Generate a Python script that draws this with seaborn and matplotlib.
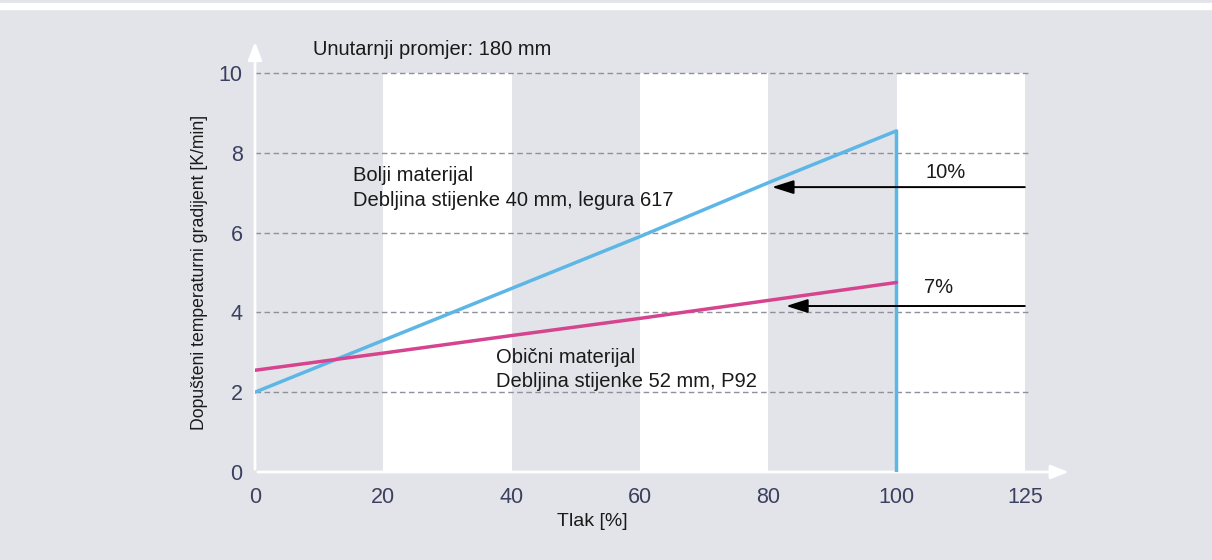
import matplotlib
matplotlib.use("Agg")
import matplotlib.pyplot as plt
import seaborn as sns
import pandas as pd

# ---- data ----
pressure = [0, 20, 40, 60, 80, 100]
better_material = [2.0, 3.3, 4.6, 5.9, 7.25, 8.55]      # Bolji materijal
ordinary_material = [2.55, 2.98, 3.42, 3.85, 4.3, 4.75]  # Obični materijal
tick_positions = [0, 20, 40, 60, 80, 100, 120]
tick_labels = ["0", "20", "40", "60", "80", "100", "125"]
y_ticks = [0, 2, 4, 6, 8, 10]
arrow_10 = (120, 80.6, 7.14)   # from x, to x, y
arrow_7 = (120, 82.8, 4.16)

BG = "#e3e4e9"
BLUE = "#5cb6e6"
MAGENTA = "#d6448f"
TICK = "#3b4060"
TXT = "#1a1a1a"

sns.set_theme(style="white")
plt.rcParams["font.family"] = ["Liberation Sans", "DejaVu Sans"]

fig = plt.figure(figsize=(12.12, 5.6), dpi=100, facecolor=BG)
fig.patches.append(plt.Rectangle((0, 1 - 9 / 560), 1, 6 / 560, transform=fig.transFigure,
                                 color="white", zorder=0))

W, H = 1212, 560
xmax, ymax = 127.5, 10.9
px_x = 128.3 / 20
px_y = 39.9
left = 255 / W
bottom = (H - 472) / H
ax = fig.add_axes([left, bottom, xmax * px_x / W, ymax * px_y / H])
ax.set_facecolor(BG)
ax.set_xlim(0, xmax)
ax.set_ylim(0, ymax)

# alternating white bands
for a, b in [(20, 40), (60, 80), (100, 120)]:
    ax.fill_between([a, b], 0, 10, color="white", lw=0, zorder=0)

# dashed gridlines
for yv in y_ticks[1:]:
    ax.plot([0, 120.8], [yv, yv], ls=(0, (4, 2.5)), color="#8e909c", lw=1.0, zorder=1)

# lines
df_b = pd.DataFrame({"x": pressure + [100], "y": better_material + [0]})
df_o = pd.DataFrame({"x": pressure, "y": ordinary_material})
sns.lineplot(data=df_b, x="x", y="y", sort=False, estimator=None, color=BLUE, lw=2.5, ax=ax, zorder=3)
sns.lineplot(data=df_o, x="x", y="y", sort=False, estimator=None, color=MAGENTA, lw=2.5, ax=ax, zorder=3)

# axes arrows (white)
ax.annotate("", xy=(127.3, 0), xytext=(0, 0),
            arrowprops=dict(arrowstyle="-|>,head_length=0.9,head_width=0.35", color="white", lw=2),
            annotation_clip=False, zorder=2)
ax.annotate("", xy=(0, 10.85), xytext=(0, 0),
            arrowprops=dict(arrowstyle="-|>,head_length=0.9,head_width=0.35", color="white", lw=2),
            annotation_clip=False, zorder=2)

# percentage arrows
for (x0, x1, yv), lab, lx, ly in [(arrow_10, "10%", 107.6, 7.5), (arrow_7, "7%", 106.5, 4.63)]:
    ax.annotate("", xy=(x1, yv), xytext=(x0, yv),
                arrowprops=dict(arrowstyle="-|>,head_length=1.1,head_width=0.35", color="black",
                                lw=1.4, shrinkA=0, shrinkB=0), zorder=4)
    ax.text(lx, ly, lab, fontsize=14.5, color=TXT, ha="center", va="center", zorder=5)

# annotations
FS = 14.5
ax.text(9.0, 10.6, "Unutarnji promjer: 180 mm", fontsize=FS, color=TXT, va="center")
ax.text(15.2, 7.44, "Bolji materijal", fontsize=FS, color=TXT, va="center")
ax.text(15.2, 6.8, "Debljina stijenke 40 mm, legura 617", fontsize=FS, color=TXT, va="center")
ax.text(37.6, 2.88, "Obični materijal", fontsize=FS, color=TXT, va="center")
ax.text(37.6, 2.28, "Debljina stijenke 52 mm, P92", fontsize=FS, color=TXT, va="center")

for s in ax.spines.values():
    s.set_visible(False)

ax.set_xticks(tick_positions)
ax.set_xticklabels(tick_labels)
ax.set_yticks(y_ticks)
ax.set_yticklabels([str(v) for v in y_ticks])
ax.tick_params(axis="both", length=0, labelsize=15.5, labelcolor=TICK)
ax.tick_params(axis="x", pad=11)
ax.tick_params(axis="y", pad=9)
ax.set_xlabel("Tlak [%]", fontsize=14, color=TXT)
ax.set_ylabel("Dopušteni temperaturni gradijent [K/min]", fontsize=12.7, color=TXT)
ax.xaxis.set_label_coords((592 - 255) / (xmax * px_x), -(522 - 472) / (ymax * px_y))
ax.xaxis.label.set_va("center")
ax.yaxis.set_label_coords(-(255 - 200) / (xmax * px_x), (472 - 272) / (ymax * px_y))
ax.yaxis.label.set_va("center")

fig.savefig("out.png", dpi=100, facecolor=BG)
